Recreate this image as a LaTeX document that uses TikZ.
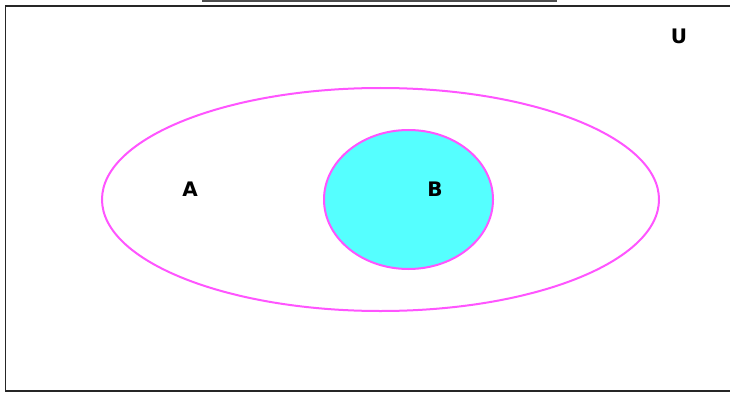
\documentclass[tikz,border=0pt]{standalone}
\usepackage{fontspec}
\setmainfont{DejaVu Sans}
\definecolor{magB}{HTML}{FF55FF}
\definecolor{cyB}{HTML}{55FFFF}
\begin{document}
\begin{tikzpicture}[x=1pt,y=-1pt,
  frame/.style={draw=black!85,line width=1.8pt},
  setline/.style={draw=magB,line width=2pt},
  lbl/.style={font=\bfseries\fontsize{20}{20}\selectfont,inner sep=0pt,text=black}]
\useasboundingbox (0,0) rectangle (730,393);
\fill[white] (0,0) rectangle (730,393);
% top short bar
\draw[black!70,line width=1.6pt] (202,0.8) -- (557,0.8);
% frame
\draw[frame] (730,6) -- (5.5,6) -- (5.5,391) -- (730,391);
% sets
\draw[setline] (380.5,199.5) ellipse [x radius=278.5,y radius=111.5];
\filldraw[setline,fill=cyB] (408.5,199.5) ellipse [x radius=84.5,y radius=69.5];
% labels
\node[lbl] (A) at (190,189) {A};
\node[lbl] (B) at (435,189) {B};
\node[lbl] (U) at (679,36) {U};
\end{tikzpicture}
\end{document}
